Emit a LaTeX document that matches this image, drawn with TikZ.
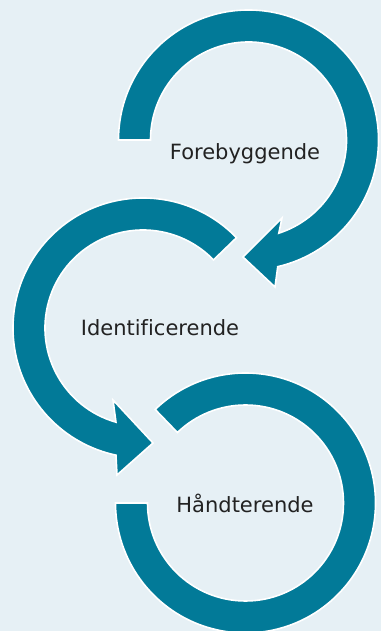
\documentclass[tikz,border=0pt]{standalone}
\usepackage{fontspec}
\setmainfont{DejaVu Sans}[Ligatures={NoCommon}]
\definecolor{bgblue}{RGB}{230,240,245}
\definecolor{teal}{RGB}{2,122,152}
\definecolor{txt}{RGB}{34,34,34}
\tikzset{
  ring/.style={fill=teal, draw=white, line width=1.6pt, line join=miter},
  lbl/.style={anchor=base, text=txt, font=\fontsize{21}{24}\selectfont, inner sep=0pt}
}
\begin{document}
\begin{tikzpicture}[x=1pt,y=1pt]
\fill[bgblue] (0,0) rectangle (381,631);
\useasboundingbox (0,0) rectangle (381,631);
% centres
\coordinate (ct) at (248.5,491);
\coordinate (cm) at (143,303);
\coordinate (cb) at (245.5,128);
% top ring: Forebyggende
\draw[ring] ([shift={(180:130)}]ct) arc[start angle=180, end angle=-77, radius=130]
  -- (275,344) -- (243,374) -- (282,413)
  -- ([shift={(-72:98)}]ct) arc[start angle=-72, end angle=180, radius=98] -- cycle;
% middle ring: Identificerende
\draw[ring] ([shift={(44:130)}]cm) arc[start angle=44, end angle=258, radius=130]
  -- (117,156) -- (153,188) -- (113,231)
  -- ([shift={(254:98)}]cm) arc[start angle=254, end angle=44, radius=98] -- cycle;
% bottom ring: Haandterende
\draw[ring] ([shift={(134:130)}]cb) arc[start angle=134, end angle=-180, radius=130]
  -- ([shift={(180:98)}]cb) arc[start angle=-180, end angle=134, radius=98] -- cycle;
\node[lbl] (fore) at (245,471) {Forebyggende};
\node[lbl] (iden) at (160,295) {Identificerende};
\node[lbl] (haan) at (245,118.3) {Håndterende};
\end{tikzpicture}
\end{document}
